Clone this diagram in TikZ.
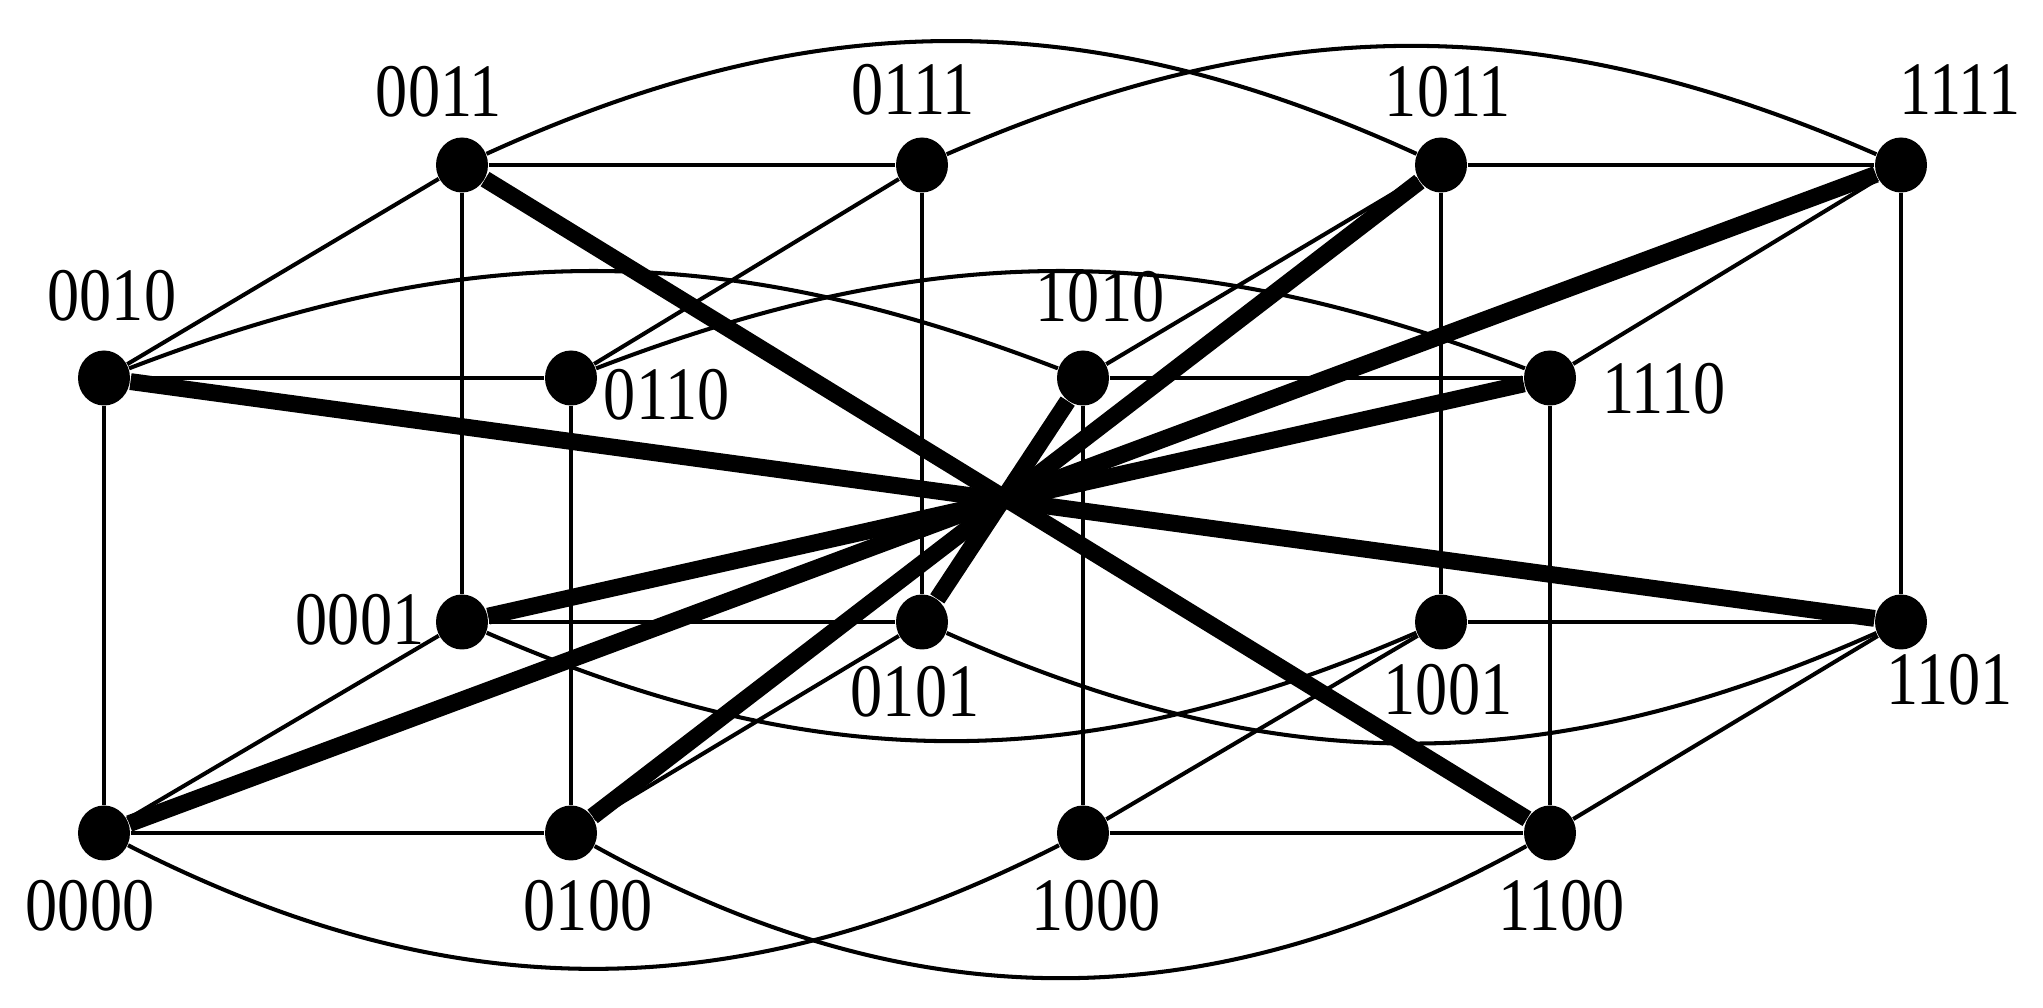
\documentclass[tikz,border=0pt]{standalone}
\usepackage{fontspec}
\setmainfont{Liberation Serif}[FakeStretch=0.85]
\usepackage{tikz}
\usetikzlibrary{shapes.geometric, backgrounds}
\tikzset{
	vtx/.style ={ellipse, fill=black, minimum width=0.52cm, minimum height=0.55cm, inner sep=0pt},
	lbl/.style ={inner sep=0pt, font=\fontsize{21.5}{21.5}\selectfont},
	edge/.style={line width=1.15pt},
	anti/.style={line width=4.8pt},
}
\begin{document}
\begin{tikzpicture}
	\useasboundingbox (0,0) rectangle (20.43,10.07);
	% vertices
	\node[vtx] (n0011) at (4.62,8.42) {};
	\node[vtx] (n0111) at (9.22,8.42) {};
	\node[vtx] (n1011) at (14.41,8.42) {};
	\node[vtx] (n1111) at (19.01,8.42) {};
	\node[vtx] (n0010) at (1.04,6.29) {};
	\node[vtx] (n0110) at (5.71,6.29) {};
	\node[vtx] (n1010) at (10.83,6.29) {};
	\node[vtx] (n1110) at (15.50,6.29) {};
	\node[vtx] (n0001) at (4.62,3.85) {};
	\node[vtx] (n0101) at (9.22,3.85) {};
	\node[vtx] (n1001) at (14.41,3.85) {};
	\node[vtx] (n1101) at (19.01,3.85) {};
	\node[vtx] (n0000) at (1.04,1.74) {};
	\node[vtx] (n0100) at (5.71,1.74) {};
	\node[vtx] (n1000) at (10.83,1.74) {};
	\node[vtx] (n1100) at (15.50,1.74) {};
	% labels
	\node[lbl] (t0011) at ([shift={(-0.23,0.73)}]n0011) {0011};
	\node[lbl] (t0111) at ([shift={(-0.09,0.75)}]n0111) {0111};
	\node[lbl] (t1011) at ([shift={(0.07,0.73)}]n1011) {1011};
	\node[lbl] (t1111) at ([shift={(0.59,0.75)}]n1111) {1111};
	\node[lbl] (t0010) at ([shift={(0.08,0.82)}]n0010) {0010};
	\node[lbl] (t0110) at ([shift={(0.96,-0.17)}]n0110) {0110};
	\node[lbl] (t1010) at ([shift={(0.17,0.81)}]n1010) {1010};
	\node[lbl] (t1110) at ([shift={(1.14,-0.11)}]n1110) {1110};
	\node[lbl] (t0001) at ([shift={(-1.02,0.02)}]n0001) {0001};
	\node[lbl] (t0101) at ([shift={(-0.07,-0.70)}]n0101) {0101};
	\node[lbl] (t1001) at ([shift={(0.07,-0.68)}]n1001) {1001};
	\node[lbl] (t1101) at ([shift={(0.49,-0.58)}]n1101) {1101};
	\node[lbl] (t0000) at ([shift={(-0.14,-0.73)}]n0000) {0000};
	\node[lbl] (t0100) at ([shift={(0.17,-0.73)}]n0100) {0100};
	\node[lbl] (t1000) at ([shift={(0.13,-0.73)}]n1000) {1000};
	\node[lbl] (t1100) at ([shift={(0.12,-0.73)}]n1100) {1100};
	\begin{scope}[on background layer]
		% straight edges
		\draw[edge] (n0011) -- (n0111); \draw[edge] (n1011) -- (n1111); \draw[edge] (n0010) -- (n0110); \draw[edge] (n1010) -- (n1110);
		\draw[edge] (n0001) -- (n0101); \draw[edge] (n1001) -- (n1101); \draw[edge] (n0000) -- (n0100); \draw[edge] (n1000) -- (n1100);
		\draw[edge] (n0011) -- (n0001); \draw[edge] (n0111) -- (n0101); \draw[edge] (n1011) -- (n1001); \draw[edge] (n1111) -- (n1101);
		\draw[edge] (n0010) -- (n0000); \draw[edge] (n0110) -- (n0100); \draw[edge] (n1010) -- (n1000); \draw[edge] (n1110) -- (n1100);
		\draw[edge] (n0011) -- (n0010); \draw[edge] (n0111) -- (n0110); \draw[edge] (n1011) -- (n1010); \draw[edge] (n1111) -- (n1110);
		\draw[edge] (n0001) -- (n0000); \draw[edge] (n0101) -- (n0100); \draw[edge] (n1001) -- (n1000); \draw[edge] (n1101) -- (n1100);
		% arcs
		\draw[edge] (n0011) to[bend left=24.5] (n1011); \draw[edge] (n0111) to[bend left=23.5] (n1111);
		\draw[edge] (n0010) to[bend left=21] (n1010); \draw[edge] (n0110) to[bend left=21] (n1110);
		\draw[edge] (n0001) to[bend right=23.5] (n1001); \draw[edge] (n0101) to[bend right=24] (n1101);
		\draw[edge] (n0000) to[bend right=27] (n1000); \draw[edge] (n0100) to[bend right=29] (n1100);
		% antipodal pairs
		\draw[anti] (n0011) -- (n1100); \draw[anti] (n0010) -- (n1101); \draw[anti] (n1011) -- (n0100);
		\draw[anti] (n1111) -- (n0000); \draw[anti] (n1010) -- (n0101); \draw[anti] (n1110) -- (n0001);
	\end{scope}
\end{tikzpicture}
\end{document}
